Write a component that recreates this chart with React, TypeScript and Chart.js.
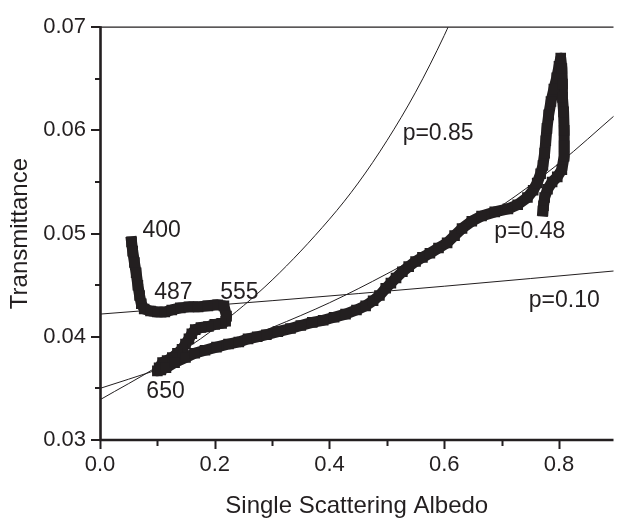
import React, { useEffect, useRef } from 'react';
import { Chart, registerables } from 'chart.js';

Chart.register(...registerables);

const INK = '#231f20';
const FONT = "'Liberation Sans', Arial, Helvetica, sans-serif";

// Measured spectrum: single scattering albedo vs transmittance (400 nm -> long wavelengths)
const albedo = [
  0.055, 0.057, 0.060, 0.063, 0.066, 0.069, 0.072, 0.077, 0.088, 0.100,
  0.113, 0.125, 0.140, 0.155, 0.171, 0.188, 0.205, 0.216, 0.2205, 0.219,
  0.212, 0.200, 0.189, 0.176, 0.166, 0.160, 0.155, 0.149, 0.143, 0.135,
  0.126, 0.117, 0.109, 0.103, 0.100,
  0.106, 0.115, 0.130, 0.149, 0.165, 0.183, 0.203, 0.224, 0.242, 0.258,
  0.274, 0.290, 0.310, 0.332, 0.350, 0.370, 0.389, 0.408, 0.428, 0.447,
  0.463, 0.476, 0.487, 0.498, 0.507, 0.516, 0.527, 0.538, 0.550, 0.562,
  0.575, 0.590, 0.605, 0.618, 0.631, 0.648, 0.665, 0.688, 0.711, 0.728,
  0.745, 0.755, 0.762,
  0.768, 0.772, 0.775, 0.777, 0.779, 0.782, 0.786, 0.791, 0.796, 0.800, 0.803,
  0.805, 0.806, 0.806, 0.808, 0.809, 0.809, 0.809, 0.805, 0.797, 0.788,
  0.780, 0.775, 0.773, 0.772,
];
const transmittance = [
  0.0492, 0.0483, 0.0472, 0.0462, 0.0450, 0.0440, 0.0432, 0.0427, 0.0425, 0.0424,
  0.0424, 0.0426, 0.0428, 0.0429, 0.0429, 0.0430, 0.0431, 0.0430, 0.0420, 0.0415,
  0.0413, 0.0412, 0.0410, 0.0409, 0.0407, 0.0403, 0.0398, 0.0393, 0.0388, 0.0384,
  0.0380, 0.0377, 0.0375, 0.0370, 0.0367,
  0.0368, 0.0370, 0.0375, 0.0380, 0.0384, 0.0387, 0.0390, 0.0393, 0.0395, 0.0398,
  0.0400, 0.0402, 0.0405, 0.0408, 0.0411, 0.0414, 0.0416, 0.0419, 0.0422, 0.0426,
  0.0430, 0.0435, 0.0440, 0.0447, 0.0452, 0.0457, 0.0463, 0.0468, 0.0473, 0.0477,
  0.0481, 0.0486, 0.0491, 0.0498, 0.0505, 0.0512, 0.0517, 0.0521, 0.0524, 0.0528,
  0.0535, 0.0542, 0.0549,
  0.0558, 0.0566, 0.0578, 0.0590, 0.0602, 0.0615, 0.0628, 0.0640, 0.0651, 0.0662, 0.0670,
  0.0660, 0.0645, 0.0632, 0.0618, 0.0600, 0.0585, 0.0575, 0.0562, 0.0555, 0.0550,
  0.0543, 0.0535, 0.0527, 0.0522,
];

// Model curves
const p085X = [0, 0.1, 0.2, 0.3, 0.4, 0.45, 0.5, 0.55, 0.6, 0.62];
const p085Y = [0.0339, 0.0371, 0.0408, 0.0455, 0.0514, 0.0549, 0.0590, 0.0637, 0.0692, 0.0717];
const p048X = [0, 0.1, 0.2, 0.3, 0.4, 0.5, 0.6, 0.7, 0.8, 0.9];
const p048Y = [0.0350, 0.0368, 0.0387, 0.0409, 0.0433, 0.0461, 0.0492, 0.0527, 0.0568, 0.0616];
const p010X = [0, 0.3, 0.6, 0.9];
const p010Y = [0.0422, 0.0435, 0.0449, 0.0464];

// Annotations
const noteTexts = ['400', '487', '555', '650', 'p=0.85', 'p=0.48', 'p=0.10'];
const noteX = [0.0739, 0.0945, 0.2096, 0.0808, 0.5275, 0.6873, 0.7474];
const noteY = [0.04967, 0.04371, 0.04371, 0.03407, 0.05903, 0.04957, 0.04286];

// Axes
const xMin = 0;
const xMax = 0.895;
const yMin = 0.03;
const yMax = 0.07;
const xMajor = [0, 0.2, 0.4, 0.6, 0.8];
const xMinor = [0.1, 0.3, 0.5, 0.7];
const yMajor = [0.03, 0.04, 0.05, 0.06, 0.07];
const yMinor = [0.035, 0.045, 0.055, 0.065];

const zip = (xs: number[], ys: number[]) => xs.map((x, i) => ({ x, y: ys[i] }));

const framePlugin = {
  id: 'frame',
  afterDatasetsDraw(chart: any) {
    const { ctx, scales } = chart;
    const xs = scales.x;
    const ys = scales.y;
    ctx.save();
    ctx.fillStyle = INK;
    ctx.font = `23px ${FONT}`;
    ctx.textAlign = 'left';
    ctx.textBaseline = 'alphabetic';
    noteTexts.forEach((t, i) => {
      ctx.fillText(t, xs.getPixelForValue(noteX[i]), ys.getPixelForValue(noteY[i]));
    });
    ctx.restore();
  },
  afterDraw(chart: any) {
    const { ctx, chartArea, scales } = chart;
    const xs = scales.x;
    const ys = scales.y;
    const L = chartArea.left + 0.5;
    const B = chartArea.bottom;
    ctx.save();
    ctx.strokeStyle = INK;
    ctx.lineWidth = 1.3;
    ctx.beginPath();
    ctx.moveTo(L, chartArea.top);
    ctx.lineTo(chartArea.right, chartArea.top);
    ctx.stroke();
    ctx.lineWidth = 2;
    ctx.beginPath();
    yMajor.forEach((v) => {
      const y = Math.round(ys.getPixelForValue(v));
      ctx.moveTo(L - 9.5, y);
      ctx.lineTo(L, y);
    });
    yMinor.forEach((v) => {
      const y = Math.round(ys.getPixelForValue(v));
      ctx.moveTo(L - 5.5, y);
      ctx.lineTo(L, y);
    });
    xMajor.forEach((v) => {
      const x = Math.round(xs.getPixelForValue(v)) + 0.5;
      ctx.moveTo(x, B);
      ctx.lineTo(x, B + 9);
    });
    xMinor.forEach((v) => {
      const x = Math.round(xs.getPixelForValue(v)) + 0.5;
      ctx.moveTo(x, B);
      ctx.lineTo(x, B + 6);
    });
    ctx.stroke();
    ctx.lineWidth = 2.6;
    ctx.beginPath();
    ctx.moveTo(L, chartArea.top - 1);
    ctx.lineTo(L, B);
    ctx.moveTo(L - 1.3, B);
    ctx.lineTo(chartArea.right, B);
    ctx.stroke();
    ctx.restore();
  },
};

export default function App() {
  const ref = useRef<HTMLCanvasElement | null>(null);

  useEffect(() => {
    if (!ref.current) return;
    const thin = {
      borderColor: INK,
      borderWidth: 1,
      pointRadius: 0,
      showLine: true,
      cubicInterpolationMode: 'monotone' as const,
      fill: false,
    };
    const chart = new Chart(ref.current, {
      type: 'scatter',
      data: {
        datasets: [
          {
            label: 'Measured',
            data: zip(albedo, transmittance),
            showLine: true,
            borderColor: INK,
            borderWidth: 11,
            borderJoinStyle: 'round',
            borderCapStyle: 'square',
            pointStyle: 'rect',
            pointRadius: 7.5,
            pointBackgroundColor: INK,
            pointBorderWidth: 0,
            tension: 0,
          },
          { label: 'p=0.85', data: zip(p085X, p085Y), ...thin },
          { label: 'p=0.48', data: zip(p048X, p048Y), ...thin },
          { label: 'p=0.10', data: zip(p010X, p010Y), ...thin },
        ],
      },
      options: {
        animation: false,
        responsive: false,
        devicePixelRatio: 1,
        events: [],
        layout: { padding: { top: 17, left: 0, right: 0, bottom: 0 } },
        plugins: {
          legend: { display: false },
          tooltip: { enabled: false },
          title: { display: false },
        },
        scales: {
          x: {
            type: 'linear',
            min: xMin,
            max: xMax,
            grid: { display: false, drawTicks: false },
            border: { display: false },
            afterBuildTicks: (s: any) => {
              s.ticks = xMajor.map((v) => ({ value: v }));
            },
            afterFit: (s: any) => {
              s.height = 78;
            },
            ticks: {
              autoSkip: false,
              maxRotation: 0,
              padding: 12,
              color: INK,
              font: { family: FONT, size: 22 },
              callback: (v: any) => Number(v).toFixed(1),
            },
            title: {
              display: true,
              text: 'Single Scattering Albedo',
              color: INK,
              font: { family: FONT, size: 24, lineHeight: 1 },
              padding: { top: 0, bottom: 0 },
            },
          },
          y: {
            type: 'linear',
            min: yMin,
            max: yMax,
            grid: { display: false, drawTicks: false },
            border: { display: false },
            afterBuildTicks: (s: any) => {
              s.ticks = yMajor.map((v) => ({ value: v }));
            },
            afterFit: (s: any) => {
              s.width = 100;
            },
            ticks: {
              autoSkip: false,
              padding: 14,
              color: INK,
              font: { family: FONT, size: 22 },
              callback: (v: any) => Number(v).toFixed(2),
            },
            title: {
              display: true,
              text: 'Transmittance',
              color: INK,
              font: { family: FONT, size: 24, lineHeight: 1 },
              padding: { top: 8, bottom: 0 },
            },
          },
        },
      } as any,
      plugins: [framePlugin],
    });
    return () => chart.destroy();
  }, []);

  return (
    <div
      style={{
        position: 'fixed',
        left: 0,
        top: 0,
        width: 621,
        height: 518,
        background: '#ffffff',
        overflow: 'hidden',
      }}
    >
      <canvas ref={ref} width={621} height={518} style={{ display: 'block' }} />
    </div>
  );
}
